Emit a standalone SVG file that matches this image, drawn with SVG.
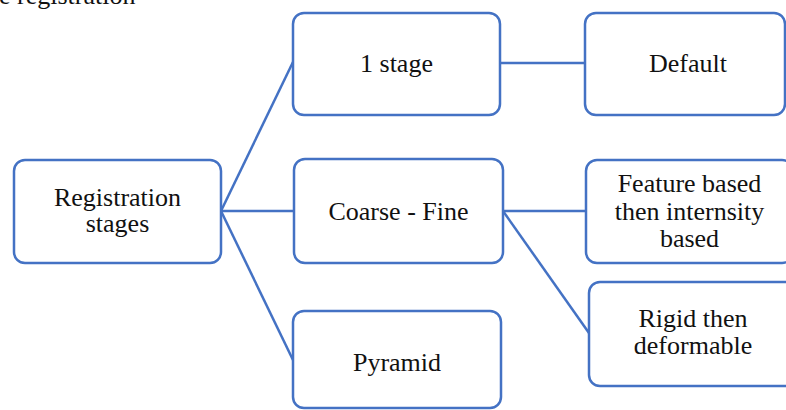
<svg xmlns="http://www.w3.org/2000/svg" width="786" height="410" viewBox="0 0 786 410">
  <style>
    .box { fill: #ffffff; stroke: #4472C4; stroke-width: 2.5; }
    .link { fill: none; stroke: #4472C4; stroke-width: 2.5; }
    text { font-family: "Liberation Serif", "Times New Roman", serif; font-size: 26px; fill: #111111; text-anchor: middle; }
    .caption { text-anchor: start; }
  </style>
  <rect width="786" height="410" fill="#ffffff"/>

  <!-- caption clipped at the top edge -->
  <text class="caption" x="-1" y="4">e registration</text>

  <g id="connectors">
    <line class="link" x1="221" y1="211" x2="293" y2="62"/>
    <line class="link" x1="221" y1="211" x2="294" y2="211"/>
    <line class="link" x1="221" y1="211" x2="293" y2="360"/>
    <line class="link" x1="500" y1="63" x2="585" y2="63"/>
    <line class="link" x1="503" y1="211" x2="586" y2="211"/>
    <line class="link" x1="503" y1="211" x2="589" y2="333"/>
  </g>

  <g id="registration-stages">
    <rect class="box" x="14" y="160" width="207" height="103" rx="11"/>
    <text x="117.5" y="206">Registration</text>
    <text x="117.5" y="232">stages</text>
  </g>

  <g id="one-stage">
    <rect class="box" x="293" y="13" width="207" height="102" rx="11"/>
    <text x="396.5" y="72">1 stage</text>
  </g>

  <g id="default">
    <rect class="box" x="585" y="13" width="200" height="102" rx="11"/>
    <text x="688" y="72">Default</text>
  </g>

  <g id="coarse-fine">
    <rect class="box" x="294" y="159" width="209" height="104" rx="11"/>
    <text x="398.5" y="220">Coarse - Fine</text>
  </g>

  <g id="feature-intensity">
    <rect class="box" x="586" y="160" width="207" height="103" rx="11"/>
    <text x="689.5" y="192">Feature based</text>
    <text x="689.5" y="220">then internsity</text>
    <text x="689.5" y="247">based</text>
  </g>

  <g id="rigid-deformable">
    <rect class="box" x="589" y="282" width="207" height="104" rx="11"/>
    <text x="693" y="327">Rigid then</text>
    <text x="693" y="354">deformable</text>
  </g>

  <g id="pyramid">
    <rect class="box" x="293" y="311" width="208" height="97" rx="11"/>
    <text x="397" y="371">Pyramid</text>
  </g>
</svg>
